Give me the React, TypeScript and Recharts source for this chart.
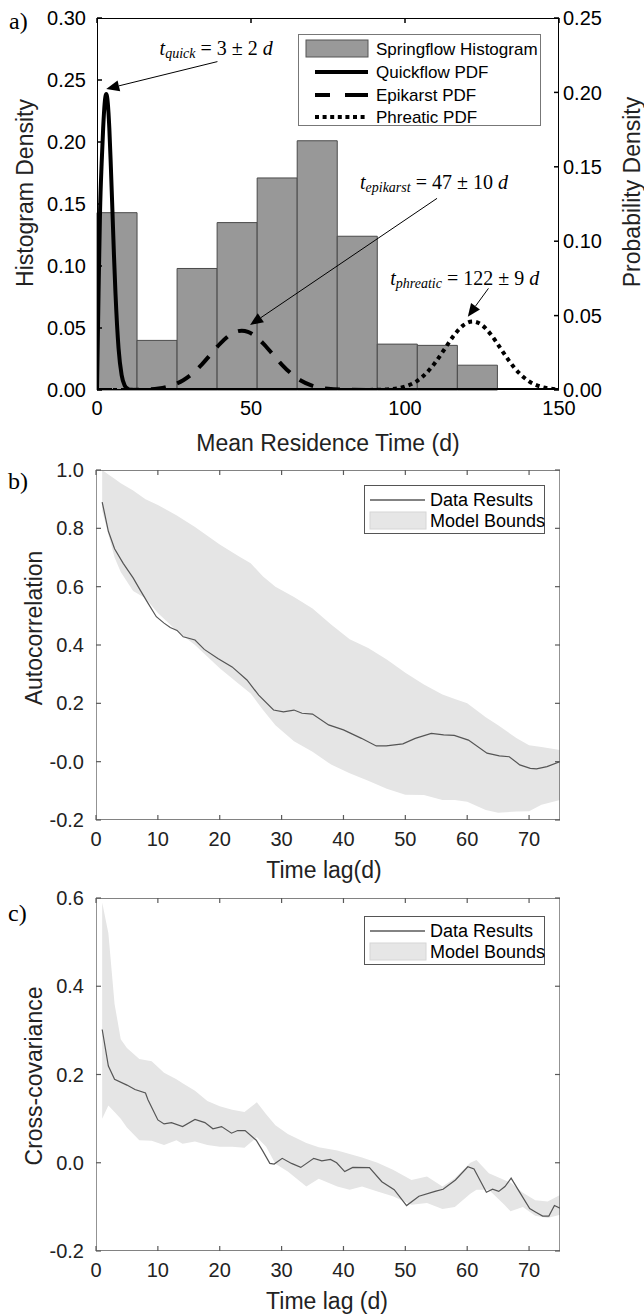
import React from 'react';
import {
  ComposedChart, Line, Area, XAxis, YAxis, ReferenceArea, ReferenceLine, ReferenceDot, Legend,
} from 'recharts';

const SANS = "'Liberation Sans', Arial, sans-serif";
const SERIF = "'Liberation Serif', 'Times New Roman', serif";

// ---------- Panel a data ----------
const binEdges = [0, 13, 26, 39, 52, 65, 78, 91, 104, 117, 130];
const histDensity = [0.143, 0.040, 0.098, 0.135, 0.171, 0.201, 0.124, 0.037, 0.036, 0.020];

const quickX = [0, 0.5, 1, 1.5, 2, 2.5, 3, 3.5, 4, 4.5, 5, 5.5, 6, 7, 8, 9, 10, 11, 12, 20, 150];
const quickY = [0, 0.065, 0.121, 0.152, 0.176, 0.193, 0.199, 0.193, 0.176, 0.150, 0.121, 0.091, 0.065, 0.028, 0.010, 0.003, 0.0008, 0.0001, 0, 0, 0];

const epiX = [0, 10, 15, 20, 25, 28, 31, 34, 37, 40, 43, 45, 47, 49, 51, 54, 57, 60, 63, 66, 70, 75, 80, 90, 150];
const epiY = [0, 0, 0.0002, 0.001, 0.0036, 0.0066, 0.0111, 0.0171, 0.0242, 0.0312, 0.0368, 0.0391, 0.0399, 0.0391, 0.0368, 0.0312, 0.0242, 0.0171, 0.0111, 0.0066, 0.0028, 0.0008, 0.0002, 0, 0];

const phrX = [0, 85, 90, 95, 100, 104, 107, 110, 113, 116, 119, 122, 125, 128, 131, 134, 137, 140, 144, 147, 150];
const phrY = [0, 0, 0.0001, 0.0005, 0.0023, 0.0062, 0.0115, 0.019, 0.028, 0.037, 0.0436, 0.046, 0.0436, 0.037, 0.028, 0.019, 0.0115, 0.0062, 0.0023, 0.001, 0.0004];

const xDomainA: [number, number] = [0, 150];
const yDomainAleft: [number, number] = [0, 0.3];
const yDomainAright: [number, number] = [0, 0.25];
const ticksAx = [0, 50, 100, 150];
const ticksAleft = [0, 0.05, 0.1, 0.15, 0.2, 0.25, 0.3];
const ticksAright = [0, 0.05, 0.1, 0.15, 0.2, 0.25];

const legendA = ['Springflow Histogram', 'Quickflow PDF', 'Epikarst PDF', 'Phreatic PDF'];

// annotation anchor points (data coords: x, right-axis y)
const annQuick = { tx: 38.7, ty: 0.2298, ax: 39.1, ay: 0.2207, bx: 3.0, by: 0.2023 };
const annEpi = { tx: 109.4, ty: 0.140, ax: 110.4, ay: 0.1288, bx: 49.7, by: 0.0437 };
const annPhr = { tx: 119.4, ty: 0.0751, ax: 127.1, ay: 0.0683, bx: 120.4, by: 0.0493 };

// ---------- Panel b data ----------
const lagB = [1, 2, 3, 4.4, 6, 7.1, 8.5, 9.75, 11, 12, 13.1, 14.1, 16, 17.5, 19.7, 22, 24.4, 26.3, 28.7, 30.3, 32, 33.3, 35, 37.6, 40, 42.9, 45.3, 46.9, 49.6, 51.6, 54.2, 56.2, 57.9, 60.2, 63.2, 65.2, 66.8, 68.5, 70.2, 71.2, 72.9, 75];
const acfB = [0.89, 0.79, 0.73, 0.68, 0.63, 0.59, 0.54, 0.497, 0.475, 0.46, 0.45, 0.428, 0.417, 0.385, 0.354, 0.325, 0.28, 0.228, 0.177, 0.171, 0.177, 0.166, 0.163, 0.126, 0.109, 0.08, 0.054, 0.054, 0.061, 0.08, 0.097, 0.092, 0.09, 0.074, 0.029, 0.02, 0.017, -0.011, -0.023, -0.025, -0.017, 0.0];

const boundLagB = [1, 2, 3, 4, 6, 8, 10, 13, 16, 20, 23, 25, 27, 29, 32, 35, 38, 41, 44, 47, 50, 53, 56, 58, 60, 63, 65, 68, 70, 72, 75];
const boundHighB = [1.0, 0.985, 0.97, 0.955, 0.93, 0.9, 0.88, 0.845, 0.805, 0.745, 0.705, 0.68, 0.635, 0.6, 0.565, 0.525, 0.47, 0.42, 0.39, 0.35, 0.305, 0.265, 0.23, 0.215, 0.2, 0.152, 0.125, 0.08, 0.056, 0.05, 0.04];
const boundLowB = [0.86, 0.78, 0.7, 0.65, 0.585, 0.56, 0.51, 0.45, 0.4, 0.32, 0.268, 0.234, 0.177, 0.125, 0.07, 0.034, -0.01, -0.04, -0.065, -0.093, -0.113, -0.114, -0.131, -0.131, -0.137, -0.166, -0.175, -0.171, -0.17, -0.148, -0.131];

const xDomainBC: [number, number] = [0, 75];
const yDomainB: [number, number] = [-0.2, 1.0];
const ticksBx = [0, 10, 20, 30, 40, 50, 60, 70];
const ticksBy = [-0.2, 0, 0.2, 0.4, 0.6, 0.8, 1.0];

// ---------- Panel c data ----------
const lagC = [1, 2, 3, 5, 6.3, 8, 8.4, 10, 11, 12.2, 14, 16, 17.6, 18.9, 20.3, 21.9, 22.9, 24.1, 25.9, 26.9, 28.1, 28.8, 30.1, 31.6, 33.1, 35.2, 36.5, 37.9, 38.9, 40.2, 41.5, 44.2, 46.2, 48.2, 50.2, 52.2, 54.8, 56.1, 58.1, 60.1, 61.1, 63.1, 64.1, 65.1, 66.1, 67.1, 68.4, 70.1, 71.1, 72.2, 73.2, 74.1, 75];
const ccC = [0.302, 0.219, 0.189, 0.176, 0.166, 0.158, 0.143, 0.097, 0.088, 0.091, 0.082, 0.098, 0.091, 0.077, 0.082, 0.067, 0.073, 0.073, 0.051, 0.028, -0.0015, -0.003, 0.01, -0.0015, -0.0105, 0.01, 0.0045, 0.0075, 0, -0.02, -0.0105, -0.011, -0.043, -0.061, -0.097, -0.076, -0.065, -0.06, -0.039, -0.009, -0.014, -0.067, -0.06, -0.065, -0.054, -0.035, -0.065, -0.104, -0.112, -0.121, -0.121, -0.097, -0.103];

const boundLagC = [1, 2, 3, 4, 5, 7, 9, 11, 13, 14, 16, 18, 20, 22, 24, 26, 27.5, 29, 31, 34, 36, 39, 41, 43, 45.5, 48, 51, 53.5, 56, 58, 60.5, 61.5, 63.5, 66, 67, 69, 71, 73, 75];
const boundHighC = [0.59, 0.52, 0.36, 0.28, 0.26, 0.235, 0.23, 0.204, 0.189, 0.18, 0.163, 0.14, 0.128, 0.12, 0.115, 0.137, 0.11, 0.085, 0.065, 0.045, 0.035, 0.028, 0.02, 0.012, 0.0, -0.016, -0.039, -0.031, -0.054, -0.035, 0.0, 0.006, -0.024, -0.039, -0.045, -0.068, -0.085, -0.088, -0.073];
const boundLowC = [0.1, 0.13, 0.115, 0.1, 0.08, 0.051, 0.05, 0.04, 0.051, 0.043, 0.048, 0.04, 0.036, 0.036, 0.034, 0.058, 0.036, -0.002, -0.02, -0.054, -0.036, -0.054, -0.061, -0.054, -0.065, -0.076, -0.095, -0.091, -0.105, -0.1, -0.07, -0.061, -0.061, -0.095, -0.11, -0.1, -0.12, -0.125, -0.118];

const yDomainC: [number, number] = [-0.2, 0.6];
const ticksCy = [-0.2, 0, 0.2, 0.4, 0.6];

const legendBC = ['Data Results', 'Model Bounds'];

// ---------- builders ----------
const toXY = (xs: number[], ys: number[]) => xs.map((x, i) => ({ x, y: ys[i] }));
const toBand = (xs: number[], lo: number[], hi: number[]) => xs.map((x, i) => ({ x, band: [lo[i], hi[i]] }));
// closed rectangle path along the domain limits (drawn as a line series through the scales)
const boxPath = (xd: [number, number], yd: [number, number]) => [
  { x: xd[0], y: yd[0] }, { x: xd[1], y: yd[0] }, { x: xd[1], y: yd[1] }, { x: xd[0], y: yd[1] }, { x: xd[0], y: yd[0] },
];

const quickData = toXY(quickX, quickY);
const epiData = toXY(epiX, epiY);
const phrData = toXY(phrX, phrY);
const acfData = toXY(lagB, acfB);
const bandB = toBand(boundLagB, boundLowB, boundHighB);
const ccData = toXY(lagC, ccC);
const bandC = toBand(boundLagC, boundLowC, boundHighC);

const Arrow = (p: any) => {
  const { x1, y1, x2, y2 } = p;
  const ang = Math.atan2(y2 - y1, x2 - x1);
  const L = 13;
  const W = 5.5;
  const bx = x2 - L * Math.cos(ang);
  const by = y2 - L * Math.sin(ang);
  const px = -Math.sin(ang) * W;
  const py = Math.cos(ang) * W;
  return (
    <g>
      <line x1={x1} y1={y1} x2={bx} y2={by} stroke="#000" strokeWidth={1} />
      <polygon points={`${x2},${y2} ${bx + px},${by + py} ${bx - px},${by - py}`} fill="#000" />
    </g>
  );
};

// inward tick stub drawn at an axis point (via ReferenceDot)
type Dir = 'right' | 'left' | 'up' | 'down';
const stub = (dir: Dir, color: string, w: number, len = 5) => (p: any) => {
  const { cx, cy } = p;
  const dx = dir === 'right' ? len : dir === 'left' ? -len : 0;
  const dy = dir === 'down' ? len : dir === 'up' ? -len : 0;
  return <path d={`M${cx},${cy}L${cx + dx},${cy + dy}`} stroke={color} strokeWidth={w} fill="none" />;
};

const mathLabel = (sub: string, rest: string) => (p: any) => (
  <text x={p.cx} y={p.cy} textAnchor="middle" dominantBaseline="central" fontFamily={SERIF} fontSize={20} fill="#000">
    <tspan fontStyle="italic">t</tspan>
    <tspan fontStyle="italic" fontSize={14} dy={5}>{sub}</tspan>
    <tspan dy={-5}>{` = ${rest} `}</tspan>
    <tspan fontStyle="italic">d</tspan>
  </text>
);

const LegendA = () => (
  <svg width={243} height={92} style={{ display: 'block' }}>
    <rect x={0.5} y={0.5} width={242} height={91} fill="#fff" stroke="#777" strokeWidth={1} />
    <rect x={8} y={6} width={62} height={17} fill="#999" stroke="#555" strokeWidth={1} />
    <line x1={17} y1={38} x2={70} y2={38} stroke="#000" strokeWidth={4} />
    <line x1={17} y1={61} x2={70} y2={61} stroke="#000" strokeWidth={4} strokeDasharray="15 15 25" />
    <line x1={17} y1={83} x2={70} y2={83} stroke="#000" strokeWidth={4} strokeDasharray="4 3.6" />
    {legendA.map((t, i) => (
      <text key={t} x={78} y={[15, 38, 61, 83][i]} dominantBaseline="central" fontFamily={SANS} fontSize={17} fill="#000">{t}</text>
    ))}
  </svg>
);

const LegendBC = () => (
  <svg width={181} height={49} style={{ display: 'block' }}>
    <rect x={0.5} y={0.5} width={180} height={48} fill="#fff" stroke="#555" strokeWidth={1} />
    <line x1={6} y1={15} x2={61} y2={15} stroke="#5a5a5a" strokeWidth={1.5} />
    <rect x={6} y={27} width={56} height={17} fill="#e6e6e6" stroke="#d6d6d6" strokeWidth={1} />
    {legendBC.map((t, i) => (
      <text key={t} x={66} y={[15, 36][i]} dominantBaseline="central" fontFamily={SANS} fontSize={18} fill="#000">{t}</text>
    ))}
  </svg>
);

const tickA = { fill: '#000', fontSize: 20, fontFamily: SANS };
const tickBC = { fill: '#222', fontSize: 20, fontFamily: SANS };
const AXC = '#5a5a5a';

const fmt2 = (v: number) => v.toFixed(2);
const fmtB = (v: number) => (Math.abs(v) < 1e-9 ? '-0.0' : v.toFixed(1));
const fmt1 = (v: number) => (Math.abs(v) < 1e-9 ? '0.0' : v.toFixed(1));

function PanelA() {
  return (
    <ComposedChart width={644} height={460} margin={{ top: 18, right: 0, bottom: 0, left: 0 }}>
      <XAxis xAxisId="b" type="number" dataKey="x" domain={xDomainA} ticks={ticksAx} interval={0}
        tickSize={0} tickMargin={11} tickLine={false} axisLine={false} height={70} tick={tickA} allowDataOverflow />
      <YAxis yAxisId="left" type="number" domain={yDomainAleft} ticks={ticksAleft} interval={0} tickFormatter={fmt2}
        width={97} tickSize={0} tickMargin={11} tickLine={false} axisLine={false} tick={tickA} allowDataOverflow />
      <YAxis yAxisId="right" orientation="right" type="number" domain={yDomainAright} ticks={ticksAright} interval={0} tickFormatter={fmt2}
        width={85} tickSize={0} tickMargin={4} tickLine={false} axisLine={false} tick={tickA} allowDataOverflow />
      {histDensity.map((h, i) => (
        <ReferenceArea key={i} xAxisId="b" yAxisId="left" x1={binEdges[i]} x2={binEdges[i + 1]} y1={0} y2={h}
          fill="#989898" fillOpacity={1} stroke="#4a4a4a" strokeWidth={1} ifOverflow="visible" />
      ))}
      {/* axes box as a closed line path */}
      <Line xAxisId="b" yAxisId="left" data={boxPath(xDomainA, yDomainAleft)} dataKey="y" type="linear"
        stroke="#000" strokeWidth={2} strokeLinejoin="miter" dot={false} activeDot={false}
        isAnimationActive={false} legendType="none" />
      {ticksAleft.map((v) => (
        <ReferenceDot key={'tl' + v} xAxisId="b" yAxisId="left" x={xDomainA[0]} y={v} ifOverflow="visible" shape={stub('right', '#000', 1.5)} />
      ))}
      {ticksAright.map((v) => (
        <ReferenceDot key={'tr' + v} xAxisId="b" yAxisId="right" x={xDomainA[1]} y={v} ifOverflow="visible" shape={stub('left', '#000', 1.5)} />
      ))}
      {ticksAx.map((v) => (
        <ReferenceDot key={'tt' + v} xAxisId="b" yAxisId="left" x={v} y={yDomainAleft[1]} ifOverflow="visible" shape={stub('down', '#000', 1.5)} />
      ))}
      <Line xAxisId="b" yAxisId="right" data={quickData} dataKey="y" type="monotone" stroke="#000" strokeWidth={4}
        dot={false} isAnimationActive={false} />
      <Line xAxisId="b" yAxisId="right" data={epiData} dataKey="y" type="monotone" stroke="#000" strokeWidth={4}
        strokeDasharray="15 12" dot={false} isAnimationActive={false} />
      <Line xAxisId="b" yAxisId="right" data={phrData} dataKey="y" type="monotone" stroke="#000" strokeWidth={4}
        strokeDasharray="4 4" dot={false} isAnimationActive={false} />
      {[annQuick, annEpi, annPhr].map((a, i) => (
        <ReferenceLine key={'ar' + i} xAxisId="b" yAxisId="right" ifOverflow="visible"
          segment={[{ x: a.ax, y: a.ay }, { x: a.bx, y: a.by }]} shape={Arrow} />
      ))}
      <ReferenceDot xAxisId="b" yAxisId="right" x={annQuick.tx} y={annQuick.ty} ifOverflow="visible" shape={mathLabel('quick', '3 ± 2')} />
      <ReferenceDot xAxisId="b" yAxisId="right" x={annEpi.tx} y={annEpi.ty} ifOverflow="visible" shape={mathLabel('epikarst', '47 ± 10')} />
      <ReferenceDot xAxisId="b" yAxisId="right" x={annPhr.tx} y={annPhr.ty} ifOverflow="visible" shape={mathLabel('phreatic', '122 ± 9')} />
      <Legend content={LegendA} layout="horizontal" verticalAlign="middle" align="center"
        wrapperStyle={{ left: 298, top: 34, width: 243, height: 92 }} />
    </ComposedChart>
  );
}

function PanelBC(props: {
  height: number; top: number; xh: number; yTicks: number[]; yDomain: [number, number];
  fmt: (v: number) => string; line: any[]; band: any[]; legTop: number;
}) {
  const { height, top, xh, yTicks, yDomain, fmt, line, band, legTop } = props;
  return (
    <ComposedChart width={644} height={height} margin={{ top, right: 0, bottom: 0, left: 0 }}>
      <XAxis xAxisId="b" type="number" dataKey="x" domain={xDomainBC} ticks={ticksBx} interval={0}
        tickSize={0} tickMargin={12} tickLine={false} axisLine={false} height={xh} tick={tickBC} allowDataOverflow />
      <YAxis yAxisId="l" type="number" domain={yDomain} ticks={yTicks} interval={0} tickFormatter={fmt}
        width={96} tickSize={0} tickMargin={12} tickLine={false} axisLine={false} tick={tickBC} allowDataOverflow />
      <YAxis yAxisId="r" orientation="right" type="number" domain={yDomain} ticks={yTicks} interval={0}
        width={84} tickSize={0} tickLine={false} axisLine={false} tick={false} allowDataOverflow />
      <Area xAxisId="b" yAxisId="l" data={band} dataKey="band" type="linear" fill="#e5e5e5" fillOpacity={1}
        stroke="none" isAnimationActive={false} dot={false} activeDot={false} />
      <Line xAxisId="b" yAxisId="l" data={line} dataKey="y" type="linear" stroke="#555" strokeWidth={1.2}
        dot={false} isAnimationActive={false} />
      {/* axes box as a closed line path */}
      <Line xAxisId="b" yAxisId="l" data={boxPath(xDomainBC, yDomain)} dataKey="y" type="linear"
        stroke={AXC} strokeWidth={1.3} strokeLinejoin="miter" dot={false} activeDot={false}
        isAnimationActive={false} legendType="none" />
      {yTicks.map((v) => (
        <ReferenceDot key={'tl' + v} xAxisId="b" yAxisId="l" x={xDomainBC[0]} y={v} ifOverflow="visible" shape={stub('right', AXC, 1.2)} />
      ))}
      {yTicks.map((v) => (
        <ReferenceDot key={'tr' + v} xAxisId="b" yAxisId="l" x={xDomainBC[1]} y={v} ifOverflow="visible" shape={stub('left', AXC, 1.2)} />
      ))}
      {ticksBx.map((v) => (
        <ReferenceDot key={'tb' + v} xAxisId="b" yAxisId="l" x={v} y={yDomain[0]} ifOverflow="visible" shape={stub('up', AXC, 1.2)} />
      ))}
      {ticksBx.map((v) => (
        <ReferenceDot key={'tt' + v} xAxisId="b" yAxisId="l" x={v} y={yDomain[1]} ifOverflow="visible" shape={stub('down', AXC, 1.2)} />
      ))}
      <Legend content={LegendBC} layout="horizontal" verticalAlign="middle" align="center"
        wrapperStyle={{ left: 364, top: legTop, width: 181, height: 49 }} />
    </ComposedChart>
  );
}

export default function App() {
  return (
    <div style={{ position: 'absolute', left: 0, top: 0, width: 644, height: 1314, background: '#fff', overflow: 'hidden' }}>
      <div style={{ position: 'absolute', left: 0, top: 0 }}>
        <PanelA />
      </div>
      <div style={{ position: 'absolute', left: 0, top: 450 }}>
        <PanelBC height={440} top={20} xh={70} yTicks={ticksBy} yDomain={yDomainB} fmt={fmtB}
          line={acfData} band={bandB} legTop={35} />
      </div>
      <div style={{ position: 'absolute', left: 0, top: 880 }}>
        <PanelBC height={434} top={18} xh={63} yTicks={ticksCy} yDomain={yDomainC} fmt={fmt1}
          line={ccData} band={bandC} legTop={36} />
      </div>
      <svg width={644} height={1314} style={{ position: 'absolute', left: 0, top: 0, pointerEvents: 'none' }}>
        <g fontFamily={SERIF} fontSize={24} fill="#000">
          <text x={9} y={29}>a)</text>
          <text x={8} y={489}>b)</text>
          <text x={8} y={921}>c)</text>
        </g>
        <g fontFamily={SANS} fontSize={23} fill="#222" textAnchor="middle" dominantBaseline="central">
          <text transform="translate(25,193) rotate(-90)">Histogram Density</text>
          <text transform="translate(632,192) rotate(-90)">Probability Density</text>
          <text x={328} y={443}>Mean Residence Time (d)</text>
          <text transform="translate(34,628) rotate(-90)">Autocorrelation</text>
          <text x={324} y={870}>Time lag(d)</text>
          <text transform="translate(34,1076) rotate(-90)">Cross-covariance</text>
          <text x={327} y={1301}>Time lag (d)</text>
        </g>
      </svg>
    </div>
  );
}
